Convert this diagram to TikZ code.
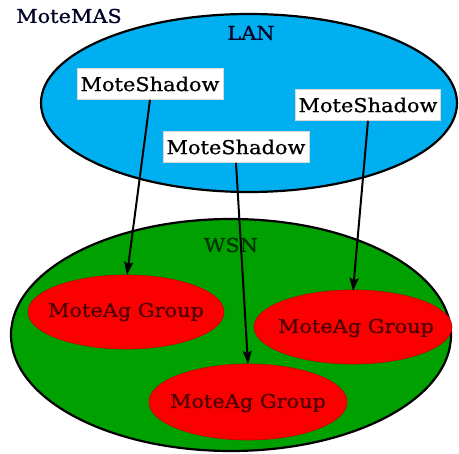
\documentclass[tikz,border=0pt]{standalone}
\usepackage{fontspec}
\setmainfont[FakeStretch=1.1,FakeBold=0.8]{DejaVu Serif}
\usetikzlibrary{shapes.geometric,arrows.meta}
\definecolor{lanblue}{RGB}{0,175,240}
\definecolor{wsngreen}{RGB}{0,160,0}
\definecolor{grpred}{RGB}{250,0,0}
\definecolor{grptext}{RGB}{80,0,0}
\begin{document}
\begin{tikzpicture}[x=1pt,y=-1pt,
  txt/.style={font=\fontsize{19}{21}\selectfont},
  shadowbox/.style={txt, draw=white!85!black, fill=white, line width=0.6pt, inner sep=3pt, minimum height=31pt},
  grpshape/.style={fill=grpred, draw=grpred!80!black, line width=0.6pt},
  grp/.style={txt, text=grptext, inner sep=0pt},
  conn/.style={-{Stealth[length=13pt,width=9pt,inset=2pt]}, line width=2pt}]
\useasboundingbox (0,0) rectangle (459,454);
% LAN
\draw[fill=lanblue, line width=2.2pt] (249,103) ellipse [x radius=208, y radius=89];
% WSN
\draw[fill=wsngreen, line width=2.2pt] (231,335) ellipse [x radius=220, y radius=116];
\node[txt, text=black!85!blue] (mas) at (69,16) {MoteMAS};
\node[txt, text=black!85!blue] (lan) at (251,33) {LAN};
\node[txt, text=black!80!green] (wsn) at (231,245) {WSN};
% groups
\draw[grpshape] (126,312) ellipse [x radius=98, y radius=37];
\draw[grpshape] (353,327) ellipse [x radius=99, y radius=37];
\draw[grpshape] (248,402) ellipse [x radius=99, y radius=38];
\node[grp] (g1) at (126,312) {MoteAg Group};
\node[grp] (g2) at (356,328) {MoteAg Group};
\node[grp] (g3) at (248,403) {MoteAg Group};
% shadows
\node[shadowbox, minimum width=146pt] (s1) at (150,84) {MoteShadow};
\node[shadowbox, minimum width=145pt] (s2) at (368,105) {MoteShadow};
\node[shadowbox, minimum width=146pt] (s3) at (236,147) {MoteShadow};
% arrows
\coordinate (t1) at (127,275);
\coordinate (t2) at (353,291);
\coordinate (t3) at (248,364);
\draw[conn] (s1.south) -- (t1);
\draw[conn] (s2.south) -- (t2);
\draw[conn] (s3.south) -- (t3);
\end{tikzpicture}
\end{document}
